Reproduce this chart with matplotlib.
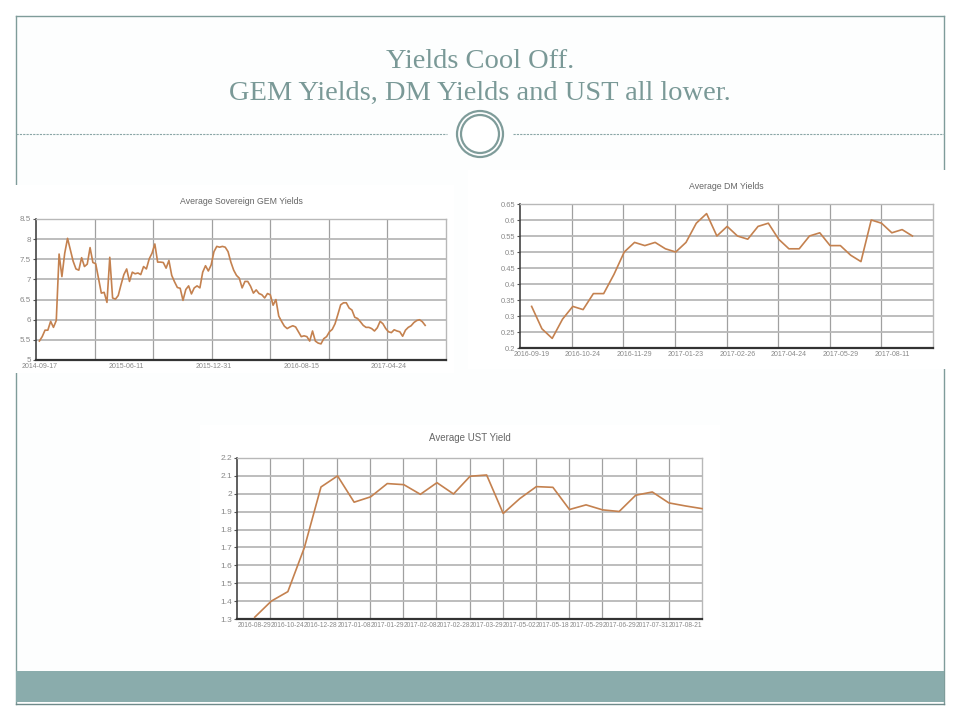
import matplotlib
matplotlib.use('Agg')
import matplotlib.pyplot as plt
import numpy as np
from matplotlib.patches import Rectangle, Circle
from matplotlib.ticker import FixedLocator, FormatStrFormatter

# ---------------- data ----------------
slide_title_1 = "Yields Cool Off."
slide_title_2 = "GEM Yields, DM Yields and UST all lower."

gem_title = "Average Sovereign GEM Yields"
gem_values = [5.47, 5.58, 5.74, 5.74, 5.96, 5.81, 5.98, 7.63, 7.07, 7.65,
              8.02, 7.73, 7.45, 7.26, 7.23, 7.54, 7.32, 7.38, 7.79, 7.42,
              7.39, 7.03, 6.66, 6.68, 6.43, 7.55, 6.54, 6.51, 6.60, 6.87,
              7.12, 7.26, 6.95, 7.18, 7.14, 7.16, 7.12, 7.32, 7.26, 7.51,
              7.65, 7.88, 7.43, 7.43, 7.42, 7.28, 7.47, 7.10, 6.94, 6.80,
              6.78, 6.48, 6.75, 6.84, 6.64, 6.79, 6.84, 6.79, 7.18, 7.34,
              7.21, 7.36, 7.69, 7.82, 7.80, 7.82, 7.80, 7.69, 7.43, 7.23,
              7.10, 7.03, 6.79, 6.95, 6.95, 6.83, 6.66, 6.74, 6.65, 6.62,
              6.54, 6.65, 6.62, 6.36, 6.50, 6.09, 5.96, 5.84, 5.78, 5.82,
              5.85, 5.82, 5.70, 5.58, 5.60, 5.58, 5.47, 5.72, 5.47, 5.42,
              5.40, 5.53, 5.58, 5.70, 5.76, 5.90, 6.13, 6.37, 6.42, 6.42,
              6.29, 6.24, 6.06, 6.03, 5.95, 5.86, 5.81, 5.81, 5.78, 5.72,
              5.80, 5.96, 5.90, 5.78, 5.70, 5.68, 5.75, 5.72, 5.70, 5.59,
              5.74, 5.81, 5.85, 5.93, 5.98, 6.00, 5.95, 5.86]
gem_tick_labels = ['2014-09-17', '2015-06-11', '2015-12-31', '2016-08-15', '2017-04-24']
gem_tick_step = 31
gem_yticks = [5, 5.5, 6, 6.5, 7, 7.5, 8, 8.5]

dm_title = "Average DM Yields"
dm_values = [0.33, 0.26, 0.23, 0.29, 0.33, 0.32, 0.37, 0.37, 0.43, 0.50,
             0.53, 0.52, 0.53, 0.51, 0.50, 0.53, 0.59, 0.62, 0.55, 0.58,
             0.55, 0.54, 0.58, 0.59, 0.54, 0.51, 0.51, 0.55, 0.56, 0.52,
             0.52, 0.49, 0.47, 0.60, 0.59, 0.56, 0.57, 0.55]
dm_tick_labels = ['2016-09-19', '2016-10-24', '2016-11-29', '2017-01-23',
                  '2017-02-26', '2017-04-24', '2017-05-29', '2017-08-11']
dm_tick_step = 5
dm_yticks = [0.2, 0.25, 0.3, 0.35, 0.4, 0.45, 0.5, 0.55, 0.6, 0.65]

ust_title = "Average UST Yield"
ust_values = [1.31, 1.40, 1.453, 1.70, 2.038, 2.10, 1.953, 1.983, 2.057, 2.051,
              1.997, 2.062, 1.999, 2.098, 2.105, 1.89, 1.973, 2.04, 2.036, 1.912,
              1.938, 1.91, 1.901, 1.992, 2.01, 1.949, 1.932, 1.917]
ust_tick_labels = ['2016-08-29', '2016-10-24', '2016-12-28', '2017-01-08', '2017-01-29',
                   '2017-02-08', '2017-02-28', '2017-03-29', '2017-05-02', '2017-05-18',
                   '2017-05-29', '2017-06-29', '2017-07-31', '2017-08-21']
ust_tick_step = 2
ust_yticks = [1.3, 1.4, 1.5, 1.6, 1.7, 1.8, 1.9, 2.0, 2.1, 2.2]

# ---------------- styles ----------------
TEAL = '#7f9c9a'
BAND = '#8aacac'
LINE = '#c4814f'
FONT = 'Liberation Sans'

fig = plt.figure(figsize=(9.6, 7.2), dpi=100)
fig.patch.set_facecolor('white')

bg = fig.add_axes([0, 0, 1, 1], zorder=0)
bg.set_xlim(0, 960)
bg.set_ylim(720, 0)
bg.axis('off')

# slide frame
bg.add_patch(Rectangle((16, 16), 928, 688, facecolor='#fdfefe', edgecolor='none', zorder=0))
bg.plot([16, 944], [16, 16], color=TEAL, lw=1.0, zorder=1)
bg.plot([16, 16], [16, 704], color=TEAL, lw=1.0, zorder=1)
bg.plot([944, 944], [16, 704], color=TEAL, lw=1.0, zorder=1)
bg.add_patch(Rectangle((16, 671), 928, 31, facecolor=BAND, edgecolor='none', zorder=2))
bg.plot([16, 944], [704, 704], color='#6f8a8a', lw=1.0, zorder=2)

# divider with double circle
bg.plot([16, 447], [134, 134], color='#8aa6a6', lw=0.8, ls=(0, (2, 1)), zorder=1)
bg.plot([513, 944], [134, 134], color='#8aa6a6', lw=0.8, ls=(0, (2, 1)), zorder=1)
bg.add_patch(Circle((480, 134), 23, facecolor='white', edgecolor=TEAL, lw=1.6, zorder=3))
bg.add_patch(Circle((480, 134), 19, facecolor='white', edgecolor=TEAL, lw=1.6, zorder=3))

# title
bg.text(480, 61, slide_title_1, ha='center', va='center', fontsize=20.5,
        family='Liberation Serif', color='#7a9997', zorder=3)
bg.text(480, 93, slide_title_2, ha='center', va='center', fontsize=20.5,
        family='Liberation Serif', color='#7a9997', zorder=3)

# pasted chart image backgrounds
bg.add_patch(Rectangle((8, 185), 446, 188, facecolor='white', edgecolor='none', zorder=4))
bg.add_patch(Rectangle((468, 170), 480, 199, facecolor='white', edgecolor='none', zorder=4))
bg.add_patch(Rectangle((200, 425), 520, 215, facecolor='white', edgecolor='none', zorder=4))


def px_axes(x0, y0, x1, y1):
    return fig.add_axes([x0 / 960, 1 - y1 / 720, (x1 - x0) / 960, (y1 - y0) / 720], zorder=5)


def draw_chart(ax, values, tick_labels, step, xlim, ndiv, yticks, title,
               tfs, xfs, yfs, title_pad):
    x = np.arange(len(values))
    ax.set_facecolor('white')
    ax.plot(x, values, color=LINE, lw=1.2, zorder=3, clip_on=False)
    ax.set_xlim(*xlim)
    ax.set_ylim(yticks[0], yticks[-1])
    ax.set_yticks(yticks)
    ax.yaxis.set_major_formatter(FormatStrFormatter('%g'))
    ax.set_xticks(np.arange(len(tick_labels)) * step)
    ax.set_xticklabels(tick_labels)
    ax.xaxis.set_minor_locator(FixedLocator(np.linspace(xlim[0], xlim[1], ndiv + 1)[1:-1]))
    ax.grid(True, axis='y', which='major', color='#b8b8b8', lw=1.3)
    ax.grid(True, axis='x', which='minor', color='#a0a0a0', lw=0.9)
    ax.set_axisbelow(True)
    ax.tick_params(axis='x', which='both', length=0, pad=2.5, labelsize=xfs,
                   labelcolor='#888888')
    ax.tick_params(axis='y', which='major', length=2, width=0.8, color='#555555',
                   pad=1.5, labelsize=yfs, labelcolor='#888888')
    for lab in ax.get_xticklabels() + ax.get_yticklabels():
        lab.set_family(FONT)
    ax.spines['bottom'].set_color('#333333')
    ax.spines['bottom'].set_linewidth(1.6)
    ax.spines['left'].set_color('#444444')
    ax.spines['left'].set_linewidth(1.2)
    for s in ('top', 'right'):
        ax.spines[s].set_color('#b8b8b8')
        ax.spines[s].set_linewidth(1.0)
    ax.set_title(title, fontsize=tfs, color='#666666', family=FONT, pad=title_pad)


ax1 = px_axes(36, 219, 446, 360)
draw_chart(ax1, gem_values, gem_tick_labels, gem_tick_step, (-1.2, 144.4), 7,
           gem_yticks, gem_title, 6.3, 5.0, 5.8, 11)

ax2 = px_axes(520, 204, 933, 348)
draw_chart(ax2, dm_values, dm_tick_labels, dm_tick_step, (-1.13, 39.0), 8,
           dm_yticks, dm_title, 6.3, 5.0, 5.4, 11)

ax3 = px_axes(237, 458, 702, 619)
draw_chart(ax3, ust_values, ust_tick_labels, ust_tick_step, (-1.07, 27.0), 14,
           ust_yticks, ust_title, 7.0, 4.8, 6.0, 12)

fig.savefig('out.png', dpi=100, facecolor='white')
